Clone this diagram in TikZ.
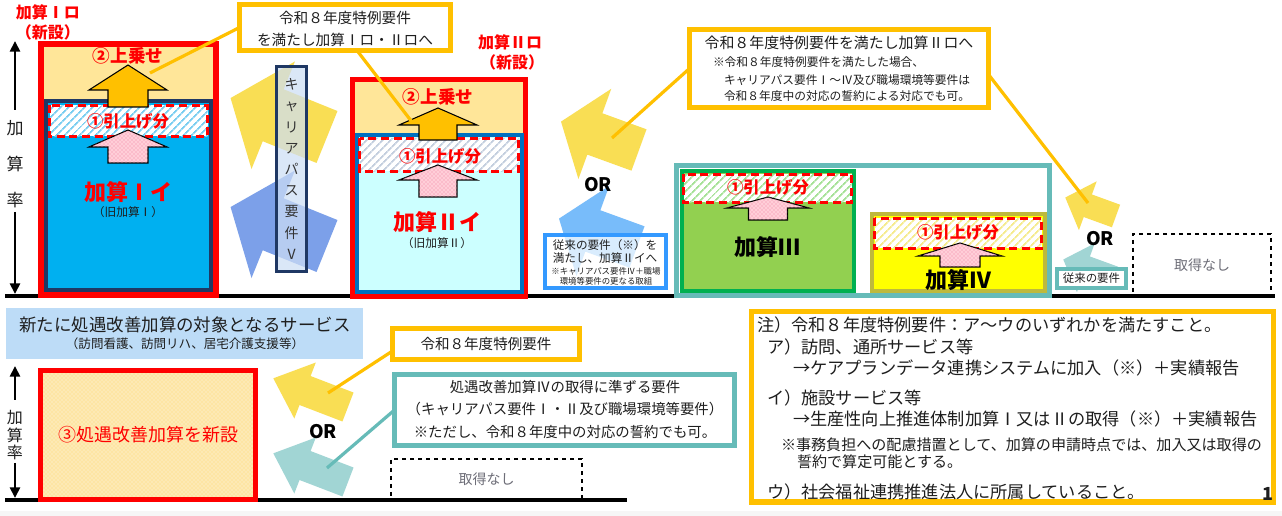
\documentclass[tikz,border=0pt]{standalone}
\usepackage{fontspec}
\setmainfont{Noto Sans CJK JP}
\usetikzlibrary{arrows.meta,patterns,patterns.meta,calc}
\newcommand\fsz[1]{\fontsize{#1}{#1}\selectfont}
\definecolor{cred}{RGB}{255,0,0}
\definecolor{corange}{RGB}{255,192,0}
\definecolor{clorange}{RGB}{255,230,153}
\definecolor{cnavy}{RGB}{31,56,100}
\definecolor{ccyan}{RGB}{0,176,240}
\definecolor{cblue2}{RGB}{0,112,192}
\definecolor{clcyan}{RGB}{204,255,255}
\definecolor{cteal}{RGB}{102,187,184}
\definecolor{cgreen}{RGB}{146,208,80}
\definecolor{cdgreen}{RGB}{0,176,80}
\definecolor{cyel}{RGB}{255,255,0}
\definecolor{colive}{RGB}{190,185,60}
\definecolor{carrY}{RGB}{249,222,84}
\definecolor{carrB}{RGB}{124,160,233}
\definecolor{carrLB}{RGB}{120,188,250}
\definecolor{carrT}{RGB}{161,213,212}
\definecolor{cbanner}{RGB}{189,220,247}
\definecolor{cboxb}{RGB}{51,153,255}
\definecolor{cpink}{RGB}{255,206,216}
\definecolor{cpinkdot}{RGB}{240,130,160}
\definecolor{ccareer}{RGB}{205,222,245}
\definecolor{cgraytxt}{RGB}{110,110,120}
\definecolor{ctxt}{RGB}{30,30,30}
\definecolor{cbox3}{RGB}{253,233,180}
\definecolor{hatchA}{RGB}{120,205,240}
\definecolor{hatchB}{RGB}{195,206,222}
\definecolor{hatchC}{RGB}{165,225,150}
\definecolor{hatchD}{RGB}{245,235,140}
% block arrow: fill, tail x, tail y, angle, length, shaft half, head half, head length
\newcommand\blkarrow[8]{%
  \begin{scope}[shift={(#2,#3)},rotate=#4]
  \fill[#1] (0,-#6) -- ({#5-#8},-#6) -- ({#5-#8},-#7) -- (#5,0) -- ({#5-#8},#7) -- ({#5-#8},#6) -- (0,#6) -- cycle;
  \end{scope}}
% upward block arrow: style, cx, tip y, wing y, bottom y, head half, shaft half
\newcommand\upblk[7]{%
  \draw[#1] (#2,#3) -- ({#2+#6},#4) -- ({#2+#7},#4) -- ({#2+#7},#5) -- ({#2-#7},#5) -- ({#2-#7},#4) -- ({#2-#6},#4) -- cycle;}
% hatched band with red dashed border
\newcommand\band[5]{%
  \fill[white] (#1,#2) rectangle (#3,#4);
  \fill[pattern={Lines[angle=45,distance=4pt,line width=1.4pt]}, pattern color=#5] (#1,#2) rectangle (#3,#4);
  \draw[draw=cred, line width=2.2pt, dash pattern=on 6pt off 3.5pt] (#1,#2) rectangle (#3,#4);}
\begin{document}
\begin{tikzpicture}[x=0.75pt,y=-0.75pt,
  every node/.style={inner sep=0pt, outer sep=0pt, text=ctxt},
  axch/.style={font=\fsz{12.75pt}},
  axarr/.style={line width=2.2pt, -{Triangle[width=7.5pt,length=8pt]}},
  redlbl/.style={text=cred, font=\fsz{12pt}\bfseries},
  upz/.style={text=cred, font=\fsz{13.2pt}\bfseries},
  hikz/.style={text=cred, font=\fsz{12.3pt}\bfseries},
  namez/.style={text=cred, font=\fsz{16.5pt}\bfseries},
  oldz/.style={font=\fsz{8.8pt}},
  orarr/.style={fill=corange, draw=black, line width=0.8pt},
  pkarr/.style={fill=cpink, draw=black, line width=0.8pt,
    postaction={pattern=crosshatch dots, pattern color=cpinkdot}},
  callout/.style={draw=corange, line width=3.75pt, fill=white},
  cline/.style={draw=corange, line width=2.4pt},
  tline/.style={draw=cteal, line width=2.4pt},
  ortxt/.style={text=black, font=\fsz{14pt}\bfseries},
  dashbox/.style={draw=black, dashed, line width=0.8pt, text=cgraytxt, font=\fsz{10.5pt}},
  notez/.style={anchor=west, font=\fsz{12.9pt}}
]
\useasboundingbox (0,0) rectangle (1282,516);
\fill[white] (0,0) rectangle (1282,516);
\fill[gray!7] (0,511) rectangle (1282,516);

% baselines
\coordinate (bl1a) at (5,296); \coordinate (bl1b) at (1275,296);
\draw[line width=2.6pt] (bl1a) -- (bl1b);
\coordinate (bl2a) at (5,500); \coordinate (bl2b) at (627,500);
\draw[line width=3.2pt] (bl2a) -- (bl2b);

% upper axis
\node[axch] (ax1) at (15,128) {加};
\node[axch] (ax2) at (15,164) {算};
\node[axch] (ax3) at (15,200) {率};
\coordinate (axUs) at (15,110); \coordinate (axUt) at (15,41);
\coordinate (axDs) at (15,212); \coordinate (axDt) at (15,294);
\draw[axarr] (axUs) -- (axUt);
\draw[axarr] (axDs) -- (axDt);

% career path arrows and box
\blkarrow{carrY}{327}{137}{158}{104}{28}{58}{46}
\blkarrow{carrB}{327}{246}{158}{104}{28}{58}{46}
\node[draw=cnavy, line width=2.25pt, fill=ccareer, fill opacity=0.72, text opacity=1,
  minimum width=22.5pt, minimum height=153.75pt, align=center,
  font=\fontsize{10.5pt}{15.9pt}\selectfont, text=black!80] (career) at (291.5,169)
  {キ\\ャ\\リ\\ア\\パ\\ス\\要\\件\\Ⅴ};

% ---- box 1 (加算Ⅰロ)
\draw[line width=4.5pt, draw=cred, fill=clorange] (41,44.5) rectangle (215.5,295.5);
\draw[line width=3pt, draw=cnavy, fill=ccyan] (46,101) rectangle (211,290.5);
\band{49.5}{105.5}{207.5}{136.5}{hatchA}
\node[upz] (b1up) at (128,56) {②上乗せ};
\node[hikz] (b1hk) at (128,121) {①引上げ分};
\upblk{orarr}{128}{65}{90}{107}{39}{20}
\upblk{pkarr}{128}{130}{147}{163}{39}{20}
\node[namez] (b1nm) at (128,192) {加算Ⅰイ};
\node[oldz] (b1old) at (128,212) {（旧加算Ⅰ）};
\node[redlbl] (b1l1) at (48,12) {加算Ⅰロ};
\node[redlbl] (b1l2) at (48,32) {（新設）};
\coordinate (t1) at (150,73);

% ---- box 2 (加算Ⅱロ)
\draw[line width=3.75pt, draw=cred, fill=clorange] (352.5,79.5) rectangle (525.5,296.5);
\draw[line width=3pt, draw=cblue2, fill=clcyan] (357,135) rectangle (522,292);
\band{359.5}{138.5}{518.5}{171.5}{hatchB}
\node[upz] (b2up) at (438,97) {②上乗せ};
\node[hikz] (b2hk) at (440,156) {①引上げ分};
\upblk{orarr}{438}{108}{125}{140}{39}{19}
\upblk{pkarr}{438}{165}{180}{197}{39}{19}
\node[namez] (b2nm) at (437,222) {加算Ⅱイ};
\node[oldz] (b2old) at (437,243) {（旧加算Ⅱ）};
\node[redlbl] (b2l1) at (510,42) {加算Ⅱロ};
\node[redlbl] (b2l2) at (512,62) {（新設）};
\coordinate (t2) at (412,122);

% ---- middle arrows
\blkarrow{carrY}{639}{150}{160}{83}{22}{48}{36}
\blkarrow{carrLB}{637}{247}{160}{83}{22}{48}{36}
\coordinate (t3) at (612,138);
\node[ortxt] (or1) at (598,185) {OR};
\node[draw=cboxb, line width=3pt, fill=white, fill opacity=0.72, text opacity=1,
  minimum width=90.75pt, minimum height=39.75pt] (jurai1) at (605.5,261.5) {};
\node[font=\fsz{8.7pt}] (j1) at (605,245) {従来の要件（※）を};
\node[font=\fsz{8.7pt}] (j2) at (605,258) {満たし、加算Ⅱイへ};
\node[font=\fsz{6.3pt}] (j3) at (606,271) {※キャリアパス要件Ⅳ＋職場};
\node[font=\fsz{6.3pt}] (j4) at (606,281) {環境等要件の更なる取組};

% ---- teal frame with 加算Ⅲ / 加算Ⅳ
\draw[line width=3.75pt, draw=cteal, fill=white] (676.5,165.5) rectangle (1049.5,295.5);
\draw[line width=3pt, draw=cdgreen, fill=cgreen] (682,171) rectangle (854,291);
\band{683.5}{174.5}{851.5}{202.5}{hatchC}
\node[hikz] (g1) at (768,187) {①引上げ分};
\upblk{pkarr}{768}{197}{208}{220}{41}{19.5}
\node[font=\fsz{16.5pt}\bfseries, text=black] (g2) at (767,247) {加算Ⅲ};
\draw[line width=3pt, draw=colive, fill=cyel] (872,214) rectangle (1045,291);
\band{874.5}{218.5}{1041.5}{248.5}{hatchD}
\node[hikz] (y1) at (958,232) {①引上げ分};
\upblk{pkarr}{960}{243}{256}{267}{42}{20}
\node[font=\fsz{16.5pt}\bfseries, text=black] (y2) at (958,280) {加算Ⅳ};

% ---- right side
\blkarrow{carrY}{1116}{216}{160}{54}{12}{26}{24}
\blkarrow{carrT}{1114}{278}{160}{54}{12}{26}{24}
\coordinate (t4) at (1088,203);
\node[ortxt] (or2) at (1100,239) {OR};
\node[draw=cteal, line width=3pt, fill=white, minimum width=51.75pt, minimum height=14.25pt,
  font=\fsz{8.6pt}] (jurai2) at (1091.5,278.5) {従来の要件};
\node[dashbox, minimum width=103.5pt, minimum height=46.5pt] (none1) at (1202,265) {取得なし};

% ---- callouts top
\node[callout, minimum width=158.25pt, minimum height=34.5pt] (c1) at (345,27.5) {};
\node[font=\fsz{11pt}] (c1a) at (345,18) {令和８年度特例要件};
\node[font=\fsz{11pt}] (c1b) at (345,40) {を満たし加算Ⅰロ・Ⅱロへ};
\node[callout, minimum width=224.25pt, minimum height=58.5pt] (c3) at (839,68.5) {};
\node[font=\fsz{11.2pt}] (c3a) at (839,43) {令和８年度特例要件を満たし加算Ⅱロへ};
\node[font=\fsz{8.8pt}, anchor=west] (c3b) at (713,62) {※令和８年度特例要件を満たした場合、};
\node[font=\fsz{8.8pt}, anchor=west] (c3c) at (724,80) {キャリアパス要件Ⅰ～Ⅳ及び職場環境等要件は};
\node[font=\fsz{8.8pt}, anchor=west] (c3d) at (724,96) {令和８年度中の対応の誓約による対応でも可。};
\draw[cline] (c1.west) -- (t1);
\draw[cline] ($(c1.south)+(12,0)$) -- (t2);
\draw[cline] (c3.west) -- (t3);
\draw[cline] ($(c3.east)+(0,6)$) -- (t4);

% ---- lower section
\node[fill=cbanner, minimum width=267.75pt, minimum height=38.25pt] (banner) at (184.5,333.5) {};
\node[font=\fsz{13.1pt}] (bn1) at (185,325) {新たに処遇改善加算の対象となるサービス};
\node[font=\fsz{9.4pt}] (bn2) at (185,344) {（訪問看護、訪問リハ、居宅介護支援等）};

\node[font=\fsz{12pt}] (lx1) at (15,418) {加};
\node[font=\fsz{12pt}] (lx2) at (15,435) {算};
\node[font=\fsz{12pt}] (lx3) at (15,452) {率};
\coordinate (lxUs) at (15,400); \coordinate (lxUt) at (15,366);
\coordinate (lxDs) at (15,463); \coordinate (lxDt) at (15,498);
\draw[axarr] (lxUs) -- (lxUt);
\draw[axarr] (lxDs) -- (lxDt);

\fill[cbox3] (40.5,370.5) rectangle (255.5,499.5);
\fill[pattern=crosshatch dots, pattern color=corange!55] (40.5,370.5) rectangle (255.5,499.5);
\draw[line width=3.75pt, draw=cred] (40.5,370.5) rectangle (255.5,499.5);
\node[text=cred, font=\fsz{13.5pt}] (r3) at (148,435) {③処遇改善加算を新設};

\blkarrow{carrY}{348}{407}{159}{80}{15.5}{30}{34}
\blkarrow{carrT}{348}{482}{159}{80}{15.5}{30}{34}
\coordinate (t5) at (328,393);
\coordinate (t6) at (327,468);
\node[ortxt] (or3) at (323,432) {OR};

\node[callout, minimum width=140.25pt, minimum height=23.25pt, font=\fsz{10.9pt}] (c4) at (486,344) {令和８年度特例要件};
\node[draw=cteal, line width=3.75pt, fill=white, minimum width=255pt, minimum height=53.25pt] (c5) at (564.5,410) {};
\node[font=\fsz{10.8pt}] (tb1) at (565,387) {処遇改善加算Ⅳの取得に準ずる要件};
\node[font=\fsz{10.8pt}] (tb2) at (565,409) {（キャリアパス要件Ⅰ・Ⅱ及び職場環境等要件）};
\node[font=\fsz{10.8pt}] (tb3) at (565,432) {※ただし、令和８年度中の対応の誓約でも可。};
\draw[cline] ($(c4.west)+(0,7)$) -- (t5);
\draw[tline] (c5.west) -- (t6);
\node[dashbox, minimum width=143.25pt, minimum height=30.75pt] (none2) at (486.5,479.5) {取得なし};

% ---- note box
\node[callout, minimum width=391.5pt, minimum height=142.5pt] (note) at (1012,407) {};
\node[notez] (n1) at (757,325) {注）令和８年度特例要件：ア～ウのいずれかを満たすこと。};
\node[notez] (n2) at (767,347) {ア）訪問、通所サービス等};
\node[notez] (n3) at (793,368) {→ケアプランデータ連携システムに加入（※）＋実績報告};
\node[notez] (n4) at (767,398) {イ）施設サービス等};
\node[notez] (n5) at (793,419) {→生産性向上推進体制加算Ⅰ又はⅡの取得（※）＋実績報告};
\node[notez, font=\fsz{11.3pt}] (n6) at (781,445) {※事務負担への配慮措置として、加算の申請時点では、加入又は取得の};
\node[notez, font=\fsz{11.3pt}] (n7) at (797,462) {誓約で算定可能とする。};
\node[notez] (n8) at (767,492) {ウ）社会福祉連携推進法人に所属していること。};
\node[font=\fsz{13.5pt}\bfseries] (pg) at (1268,494) {1};
\end{tikzpicture}
\end{document}
